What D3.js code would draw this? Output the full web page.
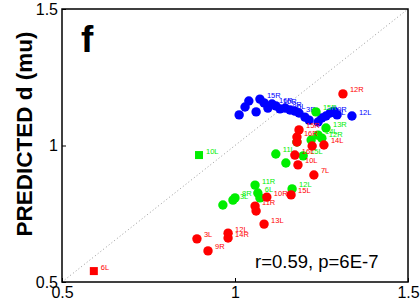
<!DOCTYPE html>
<html><head><meta charset="utf-8">
<script src="https://cdn.jsdelivr.net/npm/d3@7"></script>
<style>body{margin:0;background:#fff}svg{display:block}text{font-family:"Liberation Sans",Arial,sans-serif}</style>
</head><body><svg id="c" width="420" height="302"></svg>
<script>
// ---- data ----
const xTicks = [0.5, 1, 1.5];
const yTicks = [0.5, 1, 1.5];
const tickLabels = ["0.5", "1", "1.5"];

const blueX = [1.012,1.029,1.040,1.061,1.072,1.084,1.095,1.107,1.118,1.130,1.145,1.159,1.173,1.185,1.202,1.214,1.240,1.251,1.263,1.275,1.286,1.295,1.338];
const blueY = [1.112,1.141,1.163,1.123,1.170,1.156,1.137,1.152,1.145,1.134,1.137,1.130,1.126,1.119,1.104,1.093,1.086,1.101,1.108,1.119,1.126,1.112,1.108];
const blueLabels = ["","","","","15R","","","16R","10R","","8R","6L","","3R","","","","","16L","9R","","","12L"];

const greenX = [1.234,1.263,1.240,1.251,1.220,1.179,1.118,1.147,1.197,1.058,1.165,1.066,1.072,1.000,0.994,0.965];
const greenY = [1.123,1.064,1.038,1.027,1.020,1.013,0.969,0.936,0.962,0.855,0.841,0.826,0.808,0.808,0.800,0.782];
const greenLabels = ["15R","13R","14L","12R","","","11L","","15L","11R","12L","6L","","8R","3L",""];
const greenSquareX = [0.896];
const greenSquareY = [0.965];
const greenSquareLabels = ["10L"];

const redX = [1.312,1.185,1.179,1.179,1.223,1.257,1.173,1.182,1.228,1.162,1.092,1.058,1.061,1.084,0.980,0.980,0.890,0.922];
const redY = [1.189,1.057,1.031,1.013,0.998,1.002,0.965,0.929,0.892,0.819,0.811,0.778,0.760,0.712,0.679,0.661,0.658,0.614];
const redLabels = ["12R","15R","16R","","","14L","16L","10L","7L","15L","10R","11R","","13L","12L","14R","3L","9R"];
const redSquareX = [0.592];
const redSquareY = [0.540];
const redSquareLabels = ["6L"];

const statText = "r=0.59, p=6E-7";
const panelLetter = "f";
const yTitle = "PREDICTED d (mu)";

// ---- drawing ----
const svg = d3.select("#c");
const L = 62, R = 408, T = 9, B = 282;
const x = d3.scaleLinear().domain([0.5, 1.5]).range([L, R]);
const y = d3.scaleLinear().domain([0.5, 1.5]).range([B, T]);

// diagonal
svg.append("line").attr("x1", x(0.5)).attr("y1", y(0.5)).attr("x2", x(1.5)).attr("y2", y(1.5))
  .attr("stroke", "#9a9a9a").attr("stroke-width", 1).attr("stroke-dasharray", "1,2.5");

function drawSeries(xs, ys, labels, color, square) {
  const g = svg.append("g");
  xs.forEach((xv, i) => {
    const cx = x(xv), cy = y(ys[i]);
    if (square) {
      g.append("rect").attr("x", cx - 4).attr("y", cy - 4).attr("width", 8).attr("height", 8).attr("fill", color);
    } else {
      g.append("circle").attr("cx", cx).attr("cy", cy).attr("r", 4.7).attr("fill", color);
    }
    if (labels[i]) {
      g.append("text").attr("x", cx + 7).attr("y", cy - 1.5).attr("font-size", 7.5)
        .attr("fill", color).text(labels[i]);
    }
  });
}
drawSeries(blueX, blueY, blueLabels, "#0000ff", false);
drawSeries(greenX, greenY, greenLabels, "#00ee00", false);
drawSeries(greenSquareX, greenSquareY, greenSquareLabels, "#00ee00", true);
drawSeries(redX, redY, redLabels, "#ff0000", false);
drawSeries(redSquareX, redSquareY, redSquareLabels, "#ff0000", true);

// axes box
svg.append("rect").attr("x", L).attr("y", T).attr("width", R - L).attr("height", B - T)
  .attr("fill", "none").attr("stroke", "#000").attr("stroke-width", 1.5);

const xAxis = d3.axisBottom(x).tickValues(xTicks).tickSizeInner(-4).tickSizeOuter(0)
  .tickPadding(5).tickFormat((d, i) => tickLabels[i]);
const gx = svg.append("g").attr("transform", `translate(0,${B})`).call(xAxis);
gx.select(".domain").remove();
gx.selectAll("text").attr("font-size", 16).attr("font-family", "Liberation Sans, Arial, sans-serif").attr("fill", "#000");
gx.selectAll("line").attr("stroke", "#000");

const yAxis = d3.axisLeft(y).tickValues(yTicks).tickSizeInner(-4).tickSizeOuter(0)
  .tickPadding(4).tickFormat((d, i) => tickLabels[i]);
const gy = svg.append("g").attr("transform", `translate(${L},0)`).call(yAxis);
gy.select(".domain").remove();
gy.selectAll("text").attr("font-size", 16).attr("font-family", "Liberation Sans, Arial, sans-serif").attr("fill", "#000");
gy.selectAll("line").attr("stroke", "#000");

// y title
svg.append("text").attr("transform", "translate(32,134) rotate(-90)").attr("text-anchor", "middle")
  .attr("font-size", 22.5).attr("font-weight", "bold").attr("fill", "#000").text(yTitle);

// panel letter
svg.append("text").attr("x", 81).attr("y", 52).attr("font-size", 37).attr("font-weight", "bold")
  .attr("fill", "#000").text(panelLetter);

// stats
svg.append("text").attr("x", 255).attr("y", 268).attr("font-size", 18.5).attr("fill", "#000").text(statText);
</script></body></html>
